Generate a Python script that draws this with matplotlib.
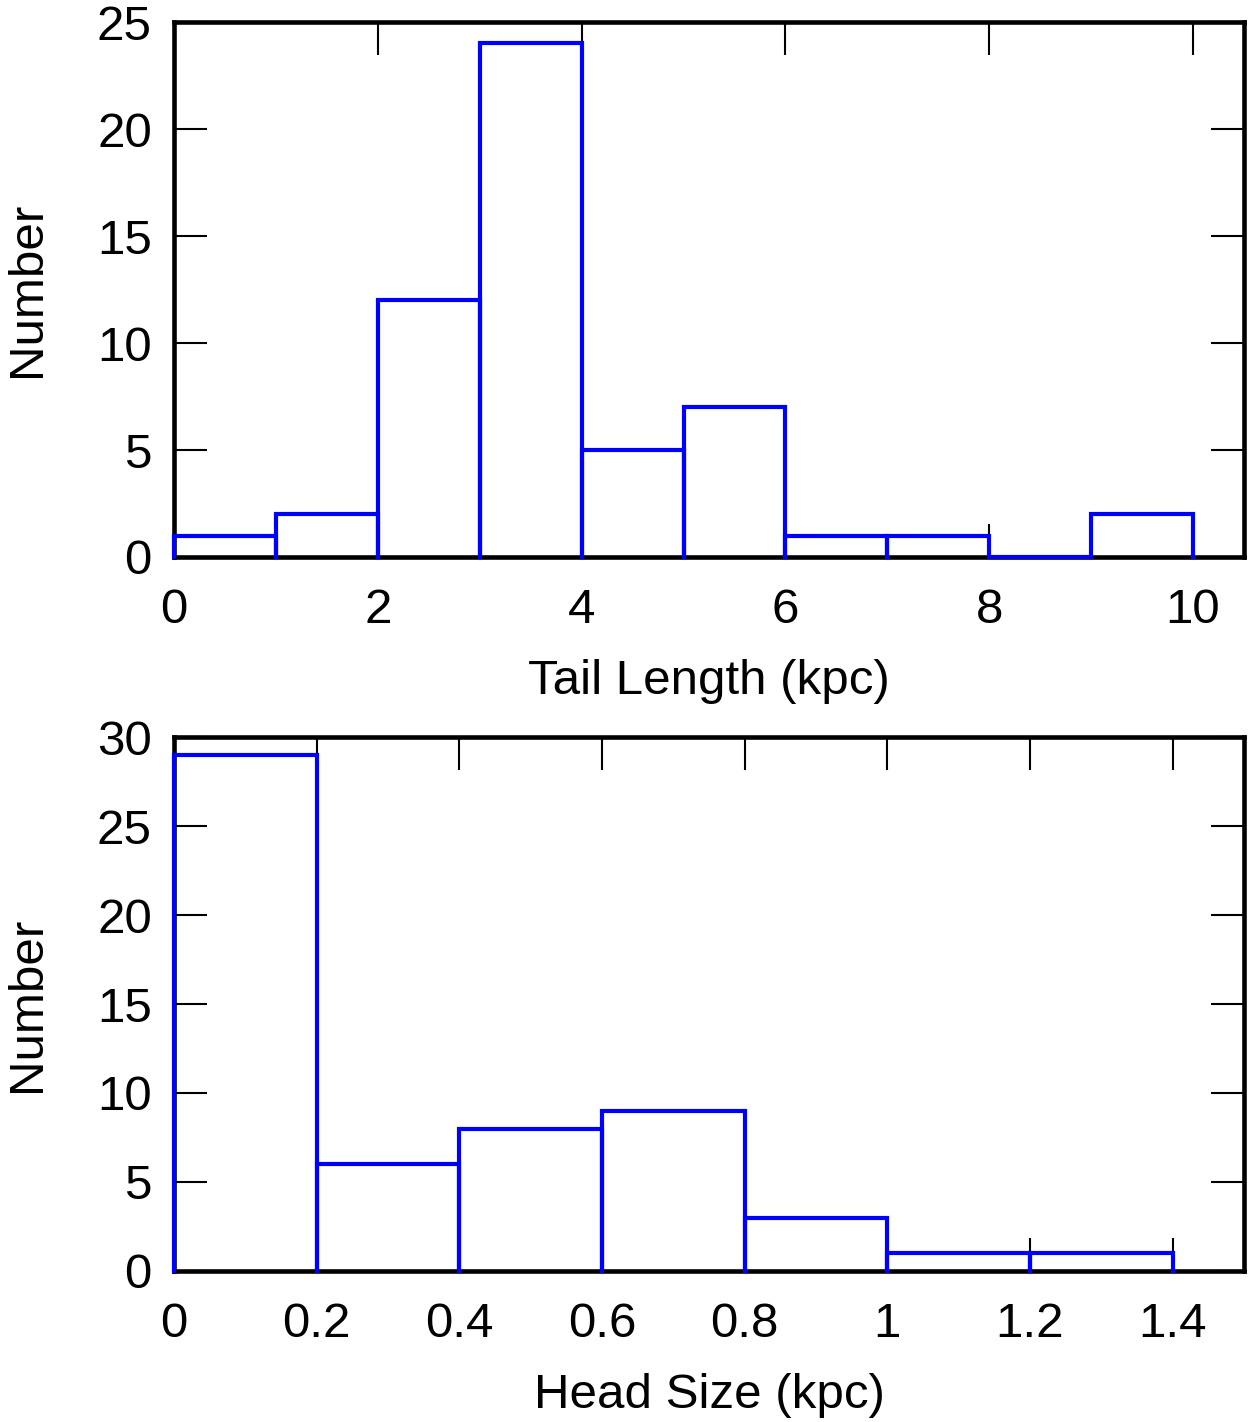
import numpy as np
import matplotlib
matplotlib.use('Agg')
import matplotlib.pyplot as plt

plt.rcParams['font.family'] = ['Liberation Sans', 'DejaVu Sans']

# Tail length histogram (kpc)
tail_edges = [0, 1, 2, 3, 4, 5, 6, 7, 8, 9, 10]
tail_counts = [1, 2, 12, 24, 5, 7, 1, 1, 0, 2]

# Head size histogram (kpc)
head_edges = [0, 0.2, 0.4, 0.6, 0.8, 1.0, 1.2, 1.4]
head_counts = [29, 6, 8, 9, 3, 1, 1]

fig = plt.figure(figsize=(12.51, 14.22), dpi=100)
ax1 = fig.add_axes([0.1391, 0.6083, 0.8553, 0.3762])
ax2 = fig.add_axes([0.1391, 0.1062, 0.8553, 0.3755])


def draw_hist(ax, edges, counts):
    # each bin as an open box (no bottom), drawn over the spines
    for i, c in enumerate(counts):
        l, r = edges[i], edges[i + 1]
        ax.plot([l, l, r, r], [0, c, c, 0], color='#0000ff', linewidth=3,
                solid_joinstyle='miter', zorder=3, clip_on=False)


def style(ax):
    for s in ax.spines.values():
        s.set_linewidth(3.3)
    ax.tick_params(direction='in', length=24, width=1.5, top=True, right=True,
                   labelsize=35.5)
    ax.tick_params(axis='x', pad=22)
    ax.tick_params(axis='y', pad=16)


draw_hist(ax1, tail_edges, tail_counts)
ax1.set_xlim(0, 10.5)
ax1.set_ylim(0, 25)
ax1.set_xticks([0, 2, 4, 6, 8, 10])
ax1.set_yticks([0, 5, 10, 15, 20, 25])
ax1.set_xlabel('Tail Length (kpc)', fontsize=35.5, labelpad=19)
ax1.set_ylabel('Number', fontsize=35.5, labelpad=34)
style(ax1)

draw_hist(ax2, head_edges, head_counts)
ax2.set_xlim(0, 1.5)
ax2.set_ylim(0, 30)
ax2.set_xticks([0, 0.2, 0.4, 0.6, 0.8, 1.0, 1.2, 1.4])
ax2.set_xticklabels(['0', '0.2', '0.4', '0.6', '0.8', '1', '1.2', '1.4'])
ax2.set_yticks([0, 5, 10, 15, 20, 25, 30])
ax2.set_xlabel('Head Size (kpc)', fontsize=35.5, labelpad=19)
ax2.set_ylabel('Number', fontsize=35.5, labelpad=34)
style(ax2)

fig.savefig('out.png', dpi=100)
